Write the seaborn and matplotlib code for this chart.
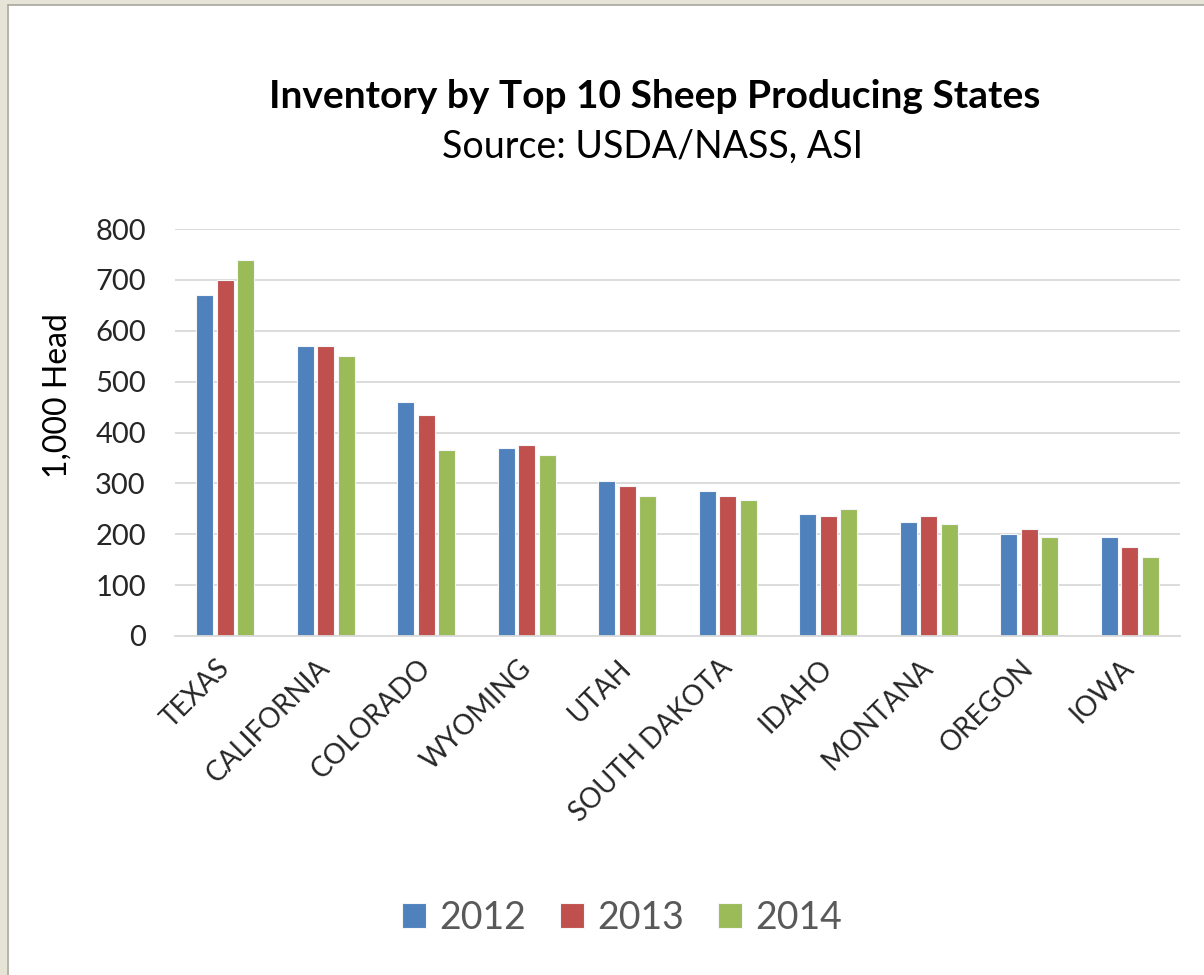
import numpy as np
import pandas as pd
import matplotlib
matplotlib.use("Agg")
import matplotlib.pyplot as plt
import seaborn as sns
from matplotlib.patches import Rectangle

# Sheep inventory (1,000 head) by state and year
states = ["TEXAS", "CALIFORNIA", "COLORADO", "WYOMING", "UTAH",
          "SOUTH DAKOTA", "IDAHO", "MONTANA", "OREGON", "IOWA"]
years = ["2012", "2013", "2014"]
head_2012 = [670, 570, 460, 370, 305, 285, 240, 225, 200, 195]
head_2013 = [700, 570, 435, 375, 295, 275, 235, 235, 210, 175]
head_2014 = [740, 550, 365, 355, 275, 268, 250, 220, 195, 155]
y_ticks = [0, 100, 200, 300, 400, 500, 600, 700, 800]
bar_colors = ["#4F81BD", "#C0504D", "#9BBB59"]

df = pd.DataFrame({"state": states, "2012": head_2012,
                   "2013": head_2013, "2014": head_2014})
long_df = df.melt(id_vars="state", value_vars=years,
                  var_name="year", value_name="head")

sns.set_theme(style="white")
plt.rcParams["font.family"] = ["Lato", "DejaVu Sans"]

W, H = 1204, 975
fig = plt.figure(figsize=(W / 100, H / 100), dpi=100)
fig.patch.set_facecolor("white")

# slide-style frame on the top and left edges
beige = "#E6E3D7"
fig.add_artist(Rectangle((0, 1 - 5 / H), 1, 5 / H, transform=fig.transFigure,
                         facecolor=beige, edgecolor="none", zorder=0))
fig.add_artist(Rectangle((0, 0), 7 / W, 1, transform=fig.transFigure,
                         facecolor=beige, edgecolor="none", zorder=0))
fig.add_artist(plt.Line2D([7.5 / W, 1], [1 - 5 / H, 1 - 5 / H],
                          transform=fig.transFigure, color="#A8A69C", lw=1.2))
fig.add_artist(plt.Line2D([7.5 / W, 7.5 / W], [0, 1 - 5 / H],
                          transform=fig.transFigure, color="#A8A69C", lw=1.2))

ax = fig.add_axes([175 / W, 1 - 636 / H, (1180 - 175) / W, (636 - 229) / H])
sns.barplot(data=long_df, x="state", y="head", hue="year",
            palette=bar_colors, saturation=1, width=0.61, gap=0.17,
            edgecolor="#F4F6FA", linewidth=0.8, ax=ax)

ax.set_xlim(-0.5, len(states) - 0.5)
ax.set_ylim(0, 800)
ax.set_yticks(y_ticks)
ax.set_yticklabels([str(v) for v in y_ticks], fontsize=21, color="#262626")
ax.yaxis.grid(True, color="#D9D9D9", linewidth=1.3)
ax.set_axisbelow(True)
for side in ["top", "right", "left"]:
    ax.spines[side].set_visible(False)
ax.spines["bottom"].set_color("#D9D9D9")
ax.spines["bottom"].set_linewidth(1.3)
ax.tick_params(axis="both", length=0)
ax.tick_params(axis="y", pad=21)
ax.tick_params(axis="x", pad=20)
ax.set_xlabel("")
ax.set_ylabel("")
ax.set_xticks(range(len(states)))
ax.set_xticklabels(states, rotation=45, ha="right", va="center",
                   rotation_mode="anchor", fontsize=20, color="#262626")

handles, labels = ax.get_legend_handles_labels()
ax.get_legend().remove()
fig.legend(handles, labels, loc="center", bbox_to_anchor=(622 / W, 1 - 918 / H),
           ncol=3, frameon=False, fontsize=27, labelcolor="#595959",
           handlelength=0.65, handleheight=0.65, handletextpad=0.35,
           columnspacing=0.9)

fig.text(655 / W, 1 - 97 / H, "Inventory by Top 10 Sheep Producing States",
         ha="center", va="center", fontsize=28, fontweight="bold", color="black")
fig.text(653 / W, 1 - 147 / H, "Source: USDA/NASS, ASI",
         ha="center", va="center", fontsize=27, color="black")
fig.text(58 / W, 1 - 396 / H, "1,000 Head", rotation=90,
         ha="center", va="center", fontsize=23, color="black")

fig.savefig("out.png", dpi=100, facecolor=fig.get_facecolor())
